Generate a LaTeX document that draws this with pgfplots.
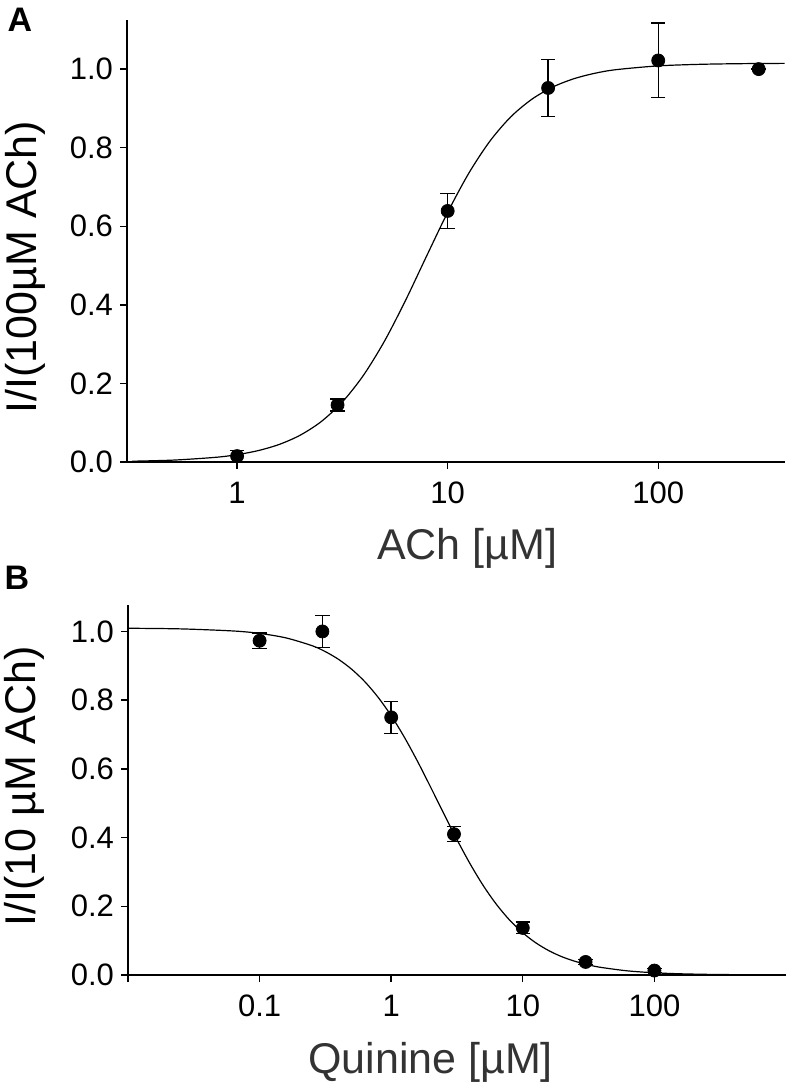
\documentclass[border=0pt]{standalone}
\usepackage{pgfplots}
\pgfplotsset{compat=1.18}
\usepackage{fontspec}
\setmainfont{Liberation Sans}

\begin{document}
\begin{tikzpicture}
\useasboundingbox (-63.5pt,-312.5pt) rectangle (329.5pt,231pt);

% panel A: ACh concentration-response
\begin{axis}[scale only axis, width=329pt, height=221pt, xmode=log,
  axis x line*=bottom, axis y line*=left, axis line style={line width=0.8pt},
  tick align=outside, major tick length=3.5pt, xminorticks=false,
  tick style={black, line width=0.7pt},
  xmin=0.3, xmax=400, ymin=0, ymax=1.125,
  xtick={1,10,100}, xticklabels={1,10,100},
  ytick={0,0.2,0.4,0.6,0.8,1.0}, yticklabels={0.0,0.2,0.4,0.6,0.8,1.0},
  tick label style={font=\fontsize{15.5}{18}\selectfont},
  xticklabel style={yshift=-3pt},
  xlabel={ACh [µM]}, ylabel={I/I(100µM ACh)},
  xlabel style={font=\fontsize{21.5}{25}\selectfont, text=black!80, at={(axis description cs:0.517,-0.195)}, anchor=center},
  ylabel style={font=\fontsize{21.5}{25}\selectfont, at={(axis description cs:-0.155,0.441)}, anchor=center}]
\addplot[black, line width=0.6pt, no marks, smooth] coordinates {
 (0.3162,0.0020) (0.5012,0.0049) (0.7943,0.0120) (1,0.0187) (1.259,0.0290)
 (1.585,0.0447) (1.995,0.0683) (2.512,0.1031) (3.162,0.1528) (3.981,0.2206)
 (5.012,0.3077) (6.310,0.4114) (7.943,0.5241) (10,0.6354) (12.59,0.7347)
 (15.85,0.8162) (19.95,0.8785) (25.12,0.9234) (31.62,0.9546) (39.81,0.9756)
 (50.12,0.9895) (63.10,0.9986) (100,1.0082) (158.5,1.0122) (251.2,1.0139)
 (398.1,1.0146)};
\addplot[black, only marks, mark=*, mark size=3.25pt,
  error bars/.cd, y dir=both, y explicit,
  error bar style={line width=0.7pt, black},
  error mark options={rotate=90, mark size=3.6pt, line width=0.7pt, black}]
 coordinates {
 (1,0.015) +- (0,0.014)
 (3,0.145) +- (0,0.015)
 (10,0.639) +- (0,0.044)
 (30,0.952) +- (0,0.073)
 (100,1.022) +- (0,0.095)
 (300,1.000) +- (0,0)};
\end{axis}

% panel B: quinine inhibition
\begin{axis}[at={(0.5pt,-256.5pt)},
  scale only axis, width=329pt, height=185pt, xmode=log,
  axis x line*=bottom, axis y line*=left, axis line style={line width=0.8pt},
  tick align=outside, major tick length=3.5pt, xminorticks=false,
  tick style={black, line width=0.7pt},
  xmin=0.01, xmax=1000, ymin=0, ymax=1.077,
  xtick={0.01,0.1,1,10,100}, xticklabels={,0.1,1,10,100},
  ytick={0,0.2,0.4,0.6,0.8,1.0}, yticklabels={0.0,0.2,0.4,0.6,0.8,1.0},
  tick label style={font=\fontsize{15.5}{18}\selectfont},
  xticklabel style={yshift=-3pt},
  xlabel={Quinine [µM]}, ylabel={I/I(10 µM ACh)},
  xlabel style={font=\fontsize{21.5}{25}\selectfont, text=black!80, at={(axis description cs:0.46,-0.235)}, anchor=center},
  ylabel style={font=\fontsize{21.5}{25}\selectfont, at={(axis description cs:-0.157,0.51)}, anchor=center}]
\addplot[black, line width=0.6pt, no marks, smooth] coordinates {
 (0.01,1.0093) (0.02512,1.0075) (0.0631,1.0014) (0.1,0.9943) (0.1585,0.9813)
 (0.2512,0.9584) (0.3162,0.9412) (0.3981,0.9188) (0.5012,0.8899) (0.6310,0.8536)
 (0.7943,0.8087) (1,0.7548) (1.259,0.6922) (1.585,0.6220) (1.995,0.5467)
 (2.512,0.4695) (3.162,0.3940) (3.981,0.3234) (5.012,0.2600) (6.310,0.2054)
 (7.943,0.1598) (10,0.1228) (12.59,0.0934) (15.85,0.0704) (19.95,0.0528)
 (25.12,0.0395) (31.62,0.0293) (39.81,0.0218) (63.10,0.0119) (100,0.0065)
 (158.5,0.0035) (316.2,0.0014) (1000,0.0003)};
\addplot[black, only marks, mark=*, mark size=3.25pt,
  error bars/.cd, y dir=both, y explicit,
  error bar style={line width=0.7pt, black},
  error mark options={rotate=90, mark size=3.6pt, line width=0.7pt, black}]
 coordinates {
 (0.1,0.973) +- (0,0.022)
 (0.3,1.000) +- (0,0.047)
 (1,0.750) +- (0,0.047)
 (3,0.410) +- (0,0.022)
 (10,0.137) +- (0,0.017)
 (30,0.038) +- (0,0.008)
 (100,0.013) +- (0,0.006)};
\end{axis}

\node[font=\bfseries\fontsize{17}{20}\selectfont] at (-53.5pt,221pt) {A};
\node[font=\bfseries\fontsize{17}{20}\selectfont] at (-55pt,-58pt) {B};
\end{tikzpicture}
\end{document}
